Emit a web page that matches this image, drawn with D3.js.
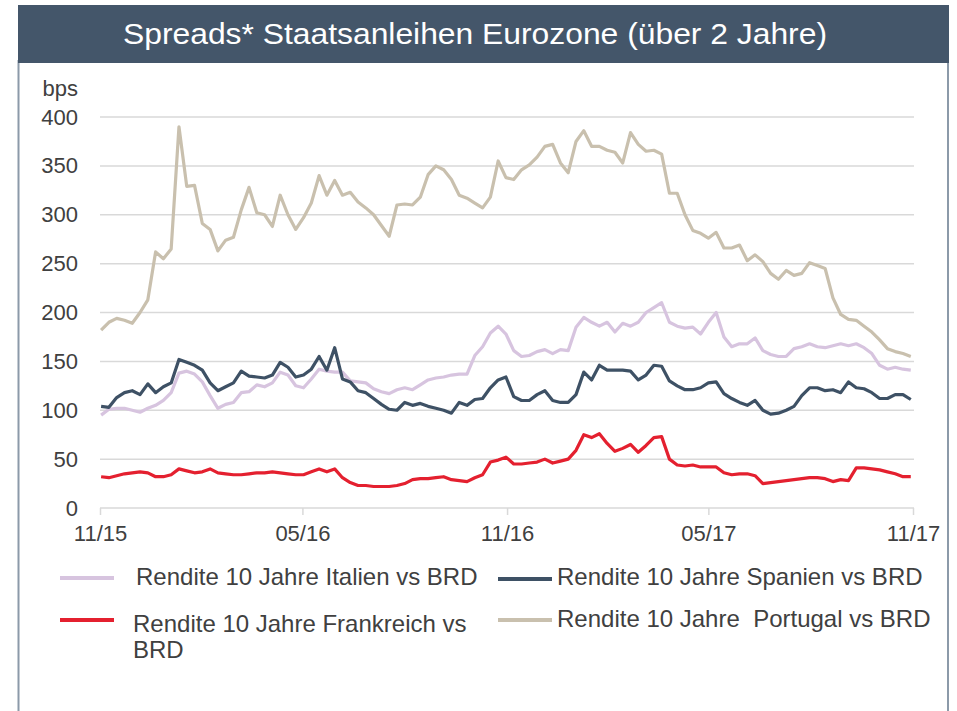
<!DOCTYPE html>
<html>
<head>
<meta charset="utf-8">
<script src="https://cdn.jsdelivr.net/npm/d3@7"></script>
<style>
  body { margin: 0; background: #fff; }
  svg { display: block; font-family: "Liberation Sans", Arial, sans-serif; }
</style>
</head>
<body>
<svg id="chart" width="957" height="711"></svg>
<script>
// weekly readings, Nov 2015 - Oct 2017
var startDate = new Date(2015, 10, 2);
var weekCount = 105;

var italien = [95,101,102,102,100,98,102,105,110,118,138,140,137,129,115,102,106,108,118,119,
  126,124,128,139,136,125,123,132,142,140,139,139,130,129,128,122,119,117,121,123,
  121,126,131,133,134,136,137,137,156,165,179,186,178,161,155,156,160,162,158,162,
  161,185,195,190,186,190,180,189,186,190,200,205,210,190,186,184,185,178,190,200,
  175,165,168,168,174,161,157,155,155,163,165,168,165,164,166,168,166,168,164,158,
  146,142,144,142,141];

var spanien = [104,103,113,118,120,116,127,118,124,128,152,149,146,141,128,120,124,128,140,135,
  134,133,136,149,144,134,136,142,155,141,164,132,129,120,118,112,106,101,100,108,
  105,107,104,102,100,97,108,105,111,112,123,131,134,114,110,110,116,120,110,108,
  108,116,139,131,146,141,141,141,140,131,136,146,145,130,125,121,121,123,128,129,
  117,112,108,105,110,100,96,97,100,104,115,123,123,120,121,118,129,123,122,118,
  112,112,116,116,111];

var frankreich = [32,31,33,35,36,37,36,32,32,34,40,38,36,37,40,36,35,34,34,35,
  36,36,37,36,35,34,34,37,40,37,40,31,26,23,23,22,22,22,23,25,
  29,30,30,31,32,29,28,27,31,34,47,49,52,45,45,46,47,50,46,48,
  50,59,75,72,76,66,58,61,65,57,64,72,73,50,44,43,44,42,42,42,
  36,34,35,35,33,25,26,27,28,29,30,31,31,30,27,29,28,41,41,40,
  39,37,35,32,32];

var portugal = [182,190,194,192,189,200,213,262,255,265,390,329,330,291,285,263,274,277,305,328,
  302,300,288,320,300,285,297,312,340,320,335,320,323,313,307,300,289,278,310,311,
  310,318,341,350,346,336,320,317,312,307,318,355,338,336,346,351,359,370,372,353,
  343,375,386,370,370,366,364,353,384,372,365,366,362,322,322,300,284,281,276,282,
  266,266,269,253,259,252,240,234,243,238,240,251,248,245,215,198,193,192,186,180,
  172,163,160,158,155];

var seriesNames = [
  "Rendite 10 Jahre Italien vs BRD",
  "Rendite 10 Jahre Spanien vs BRD",
  "Rendite 10 Jahre Frankreich vs BRD",
  "Rendite 10 Jahre  Portugal vs BRD"
];
var yTicks = [0, 50, 100, 150, 200, 250, 300, 350, 400];
var xTickLabels = ["11/15", "05/16", "11/16", "05/17", "11/17"];

var colors = {
  italien: "#d7c4df",
  spanien: "#3e5165",
  frankreich: "#e4202f",
  portugal: "#c9c0ae"
};

var weeks = d3.range(weekCount).map(function(i) { return d3.timeWeek.offset(startDate, i); });
var xTickDates = xTickLabels.map(function(s) {
  return new Date(2000 + (+s.slice(3)), +s.slice(0, 2) - 1, 1);
});

var svg = d3.select("#chart");

// frame + title bar
svg.append("line").attr("x1", 18.5).attr("x2", 18.5).attr("y1", 60).attr("y2", 711)
  .attr("stroke", "#8c9aa9").attr("stroke-width", 2);
svg.append("line").attr("x1", 948).attr("x2", 948).attr("y1", 60).attr("y2", 711)
  .attr("stroke", "#8c9aa9").attr("stroke-width", 2);
svg.append("rect").attr("x", 18).attr("y", 5).attr("width", 931).attr("height", 58)
  .attr("fill", "#44566a");
svg.append("text")
  .attr("x", 475).attr("y", 44)
  .attr("text-anchor", "middle")
  .attr("fill", "#fff")
  .attr("font-size", 29)
  .attr("textLength", 704)
  .attr("lengthAdjust", "spacingAndGlyphs")
  .text("Spreads* Staatsanleihen Eurozone (über 2 Jahre)");

var x = d3.scaleTime().domain([xTickDates[0], xTickDates[4]]).range([100, 913]);
var y = d3.scaleLinear().domain([0, 400]).range([508, 117]);

// gridlines
svg.append("g")
  .selectAll("line")
  .data(yTicks)
  .join("line")
  .attr("x1", 100).attr("x2", 914)
  .attr("y1", function(d) { return y(d); })
  .attr("y2", function(d) { return y(d); })
  .attr("stroke", "#d9d9d9").attr("stroke-width", 1.5);

// y axis labels
var yAxis = svg.append("g")
  .attr("transform", "translate(100,0)")
  .call(d3.axisLeft(y).tickValues(yTicks).tickSize(0).tickPadding(22));
yAxis.select(".domain").remove();
yAxis.selectAll("text").attr("font-size", 22).attr("fill", "#404040")
  .attr("font-family", "Liberation Sans, Arial, sans-serif");

svg.append("text").attr("x", 78).attr("y", 96).attr("text-anchor", "end")
  .attr("font-size", 22).attr("fill", "#404040").text("bps");

// x axis
var xAxis = svg.append("g")
  .attr("transform", "translate(0," + y(0) + ")")
  .call(d3.axisBottom(x).tickValues(xTickDates)
    .tickFormat(function(d, i) { return xTickLabels[i]; })
    .tickSize(7).tickPadding(10));
xAxis.select(".domain").remove();
xAxis.selectAll("line").attr("stroke", "#d9d9d9").attr("stroke-width", 1.5);
xAxis.selectAll("text").attr("font-size", 22).attr("fill", "#404040")
  .attr("font-family", "Liberation Sans, Arial, sans-serif");

var line = d3.line()
  .x(function(d, i) { return x(weeks[i]); })
  .y(function(d) { return y(d); });

[["portugal", portugal], ["italien", italien], ["spanien", spanien], ["frankreich", frankreich]]
  .forEach(function(s) {
    svg.append("path")
      .attr("d", line(s[1]))
      .attr("fill", "none")
      .attr("stroke", colors[s[0]])
      .attr("stroke-width", 3.2)
      .attr("stroke-linejoin", "round");
  });

// legend
var legend = [
  { key: "italien", lx: 60, ly: 578, tx: 136, ty: 585, lines: [seriesNames[0]] },
  { key: "spanien", lx: 498, ly: 579, tx: 557, ty: 585, lines: [seriesNames[1]] },
  { key: "frankreich", lx: 60, ly: 620, tx: 133, ty: 632, lines: ["Rendite 10 Jahre Frankreich vs", "BRD"] },
  { key: "portugal", lx: 498, ly: 620, tx: 557, ty: 627, lines: [seriesNames[3]] }
];
var lg = svg.append("g").selectAll("g").data(legend).join("g");
lg.append("line")
  .attr("x1", function(d) { return d.lx; })
  .attr("x2", function(d) { return d.lx + 54; })
  .attr("y1", function(d) { return d.ly; })
  .attr("y2", function(d) { return d.ly; })
  .attr("stroke", function(d) { return colors[d.key]; })
  .attr("stroke-width", 4);
lg.each(function(d) {
  var t = d3.select(this).append("text")
    .attr("font-size", 24).attr("fill", "#404040")
    .style("white-space", "pre");
  d.lines.forEach(function(s, i) {
    t.append("tspan").attr("x", d.tx).attr("y", d.ty + i * 26).text(s);
  });
});
</script>
</body>
</html>
